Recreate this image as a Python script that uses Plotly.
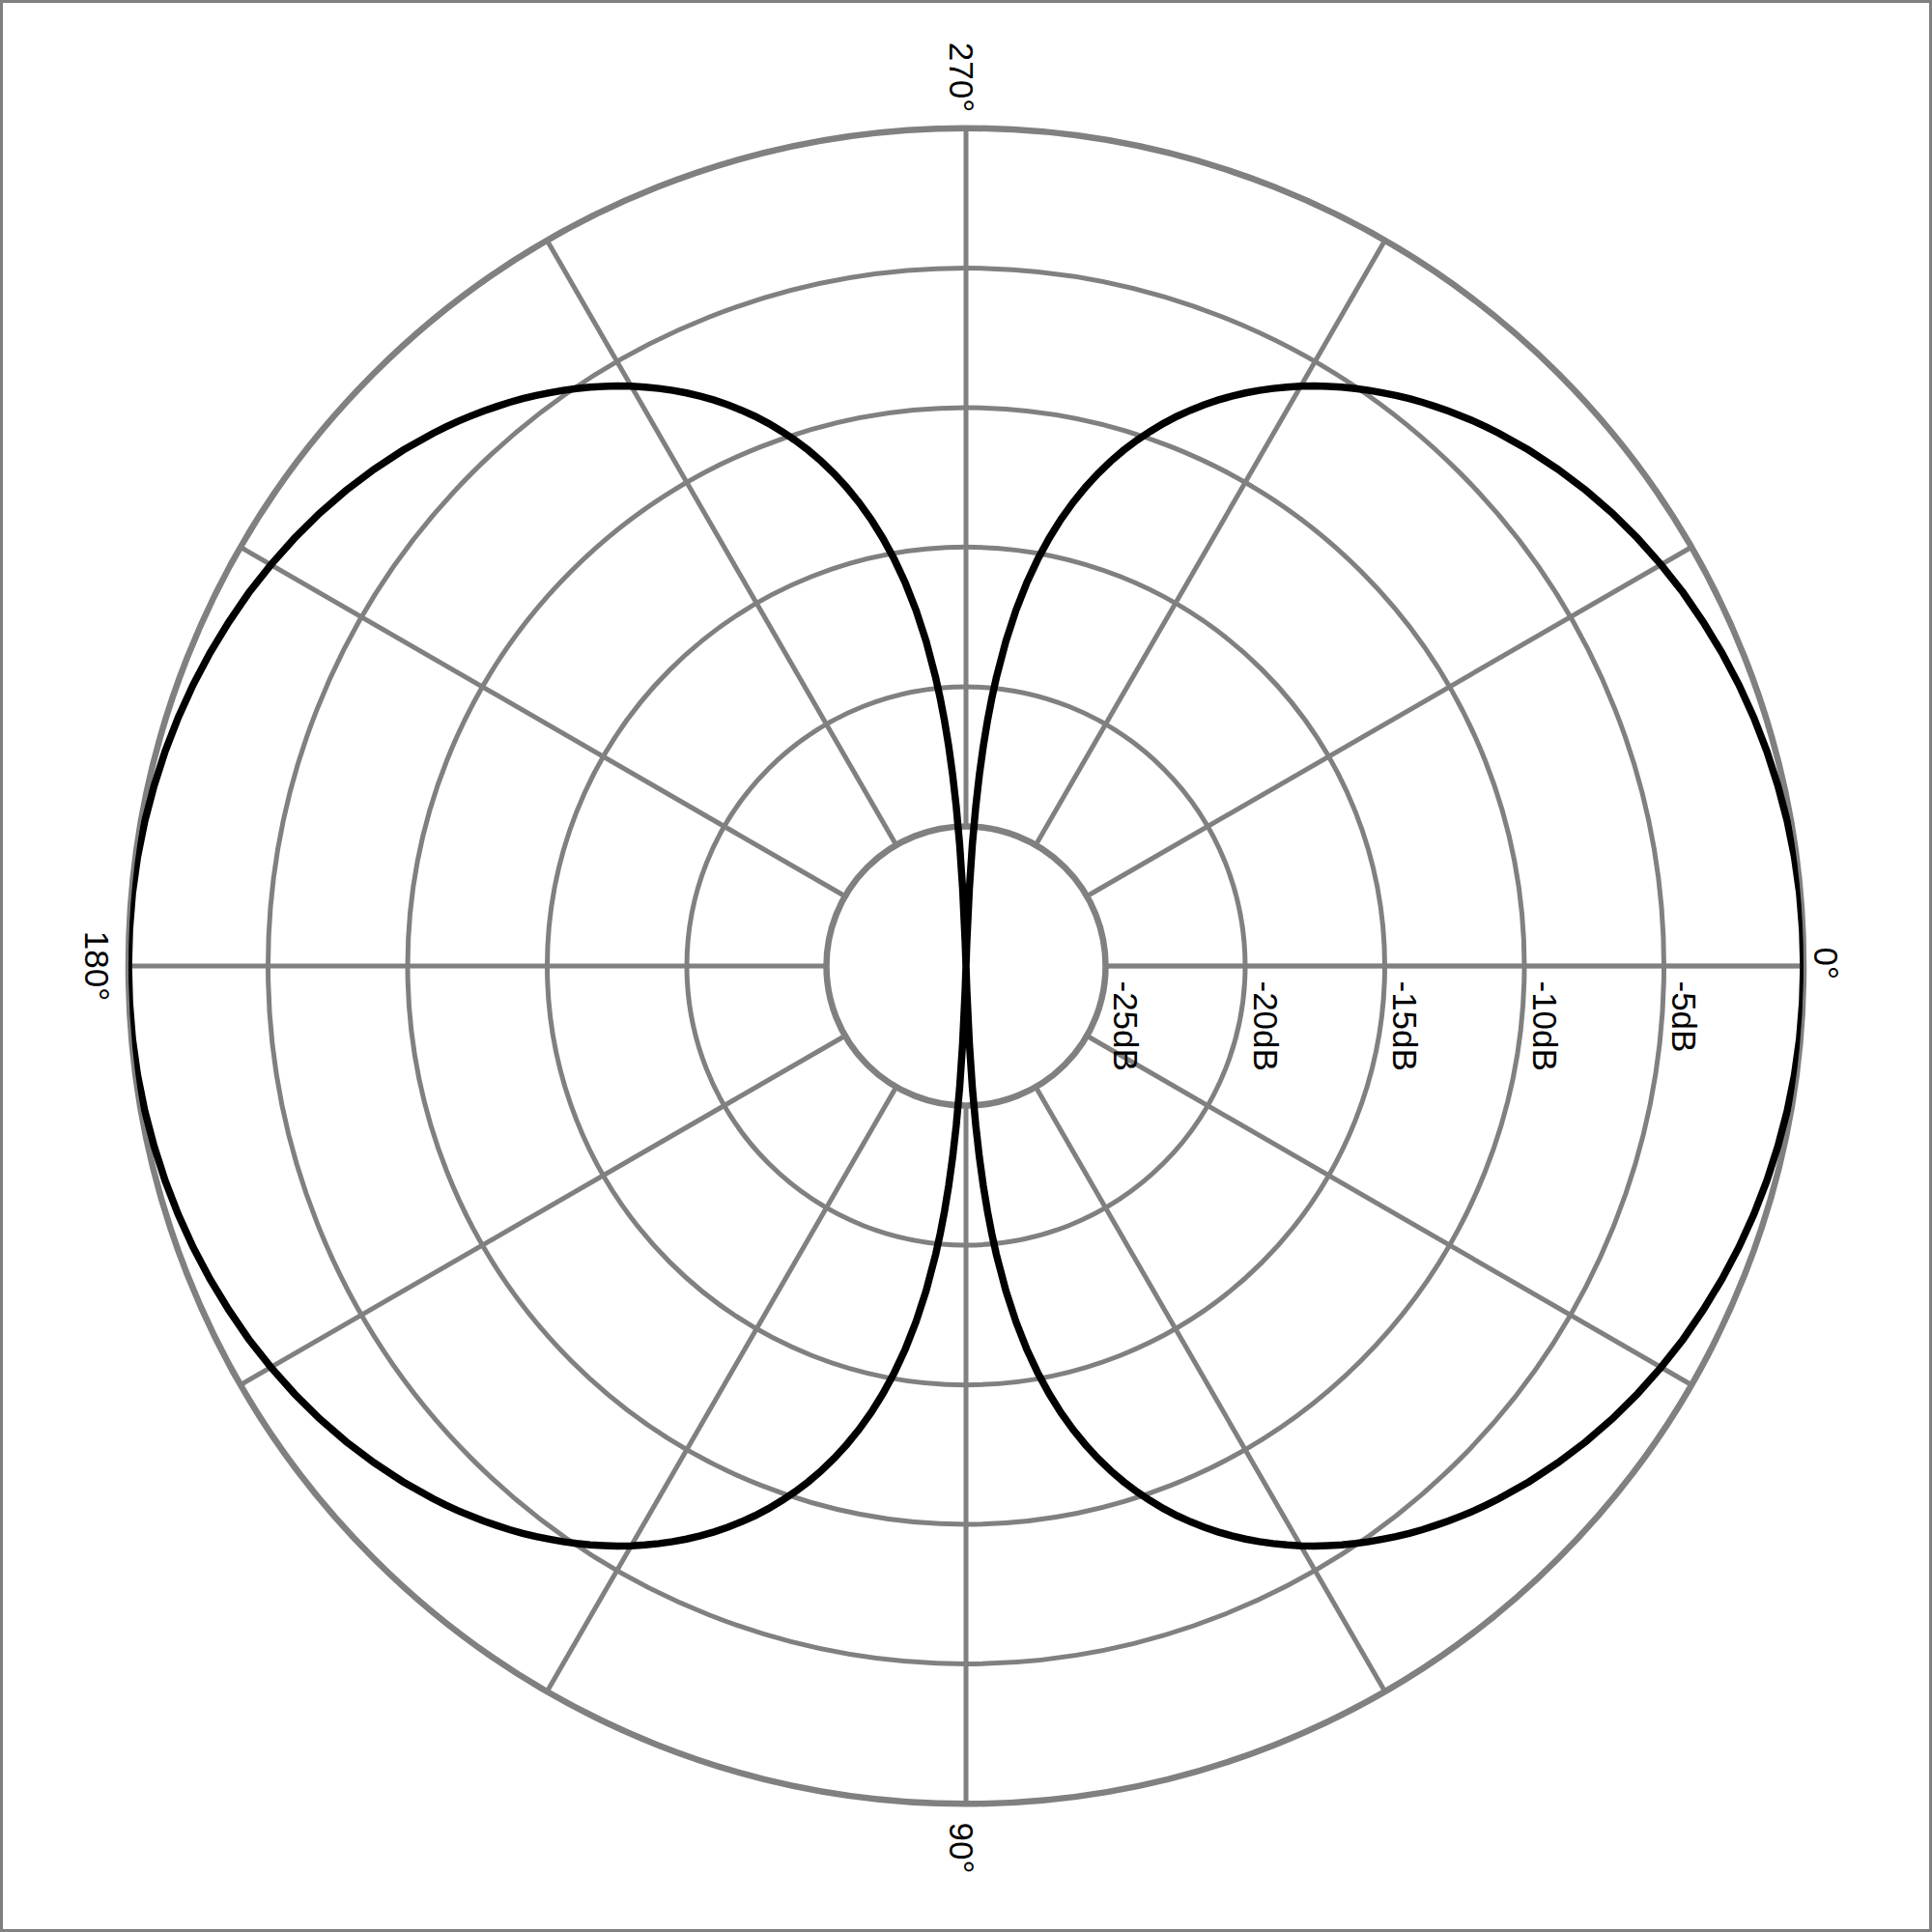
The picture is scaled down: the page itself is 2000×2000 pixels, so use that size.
import plotly.graph_objects as go

# Figure-8 pattern: angle (deg, clockwise from 0 at right) and level (dB)
theta_q1 = [0, 2.5, 5, 7.5, 10, 12.5, 15, 17.5, 20, 22.5, 25, 27.5, 30, 32.5, 35, 37.5, 40,
            42.5, 45, 46, 47, 48, 49, 50, 51, 52, 53, 54, 55, 56, 57, 58, 59, 60, 61, 62, 63,
            64, 65, 66, 67, 68, 69, 70, 71, 72, 73, 74, 75, 76, 77, 78, 79, 80, 81, 82, 83, 84,
            84.5, 85, 85.5, 86, 86.5, 87, 87.5, 88, 90]
level_q1 = [0.0, -0.01, -0.03, -0.07, -0.13, -0.21, -0.30, -0.41, -0.54, -0.69, -0.86, -1.04,
            -1.25, -1.48, -1.73, -2.01, -2.32, -2.65, -3.01, -3.16, -3.32, -3.49, -3.66, -3.84,
            -4.02, -4.21, -4.41, -4.62, -4.83, -5.05, -5.28, -5.52, -5.76, -6.02, -6.29, -6.57,
            -6.86, -7.16, -7.48, -7.81, -8.16, -8.53, -8.91, -9.32, -9.75, -10.20, -10.68,
            -11.19, -11.74, -12.33, -12.96, -13.64, -14.39, -15.21, -16.11, -17.13, -18.28,
            -19.62, -20.37, -21.19, -22.11, -23.13, -24.29, -25.62, -27.21, -29.14, -30.0]

theta_q2 = [92, 92.5, 93, 93.5, 94, 94.5, 95, 95.5, 96, 97, 98, 99, 100, 101, 102, 103, 104,
            105, 106, 107, 108, 109, 110, 111, 112, 113, 114, 115, 116, 117, 118, 119, 120, 121,
            122, 123, 124, 125, 126, 127, 128, 129, 130, 131, 132, 133, 134, 135, 137.5, 140,
            142.5, 145, 147.5, 150, 152.5, 155, 157.5, 160, 162.5, 165, 167.5, 170, 172.5, 175,
            177.5, 180]
level_q2 = [-29.14, -27.21, -25.62, -24.29, -23.13, -22.11, -21.19, -20.37, -19.62, -18.28,
            -17.13, -16.11, -15.21, -14.39, -13.64, -12.96, -12.33, -11.74, -11.19, -10.68,
            -10.20, -9.75, -9.32, -8.91, -8.53, -8.16, -7.81, -7.48, -7.16, -6.86, -6.57, -6.29,
            -6.02, -5.76, -5.52, -5.28, -5.05, -4.83, -4.62, -4.41, -4.21, -4.02, -3.84, -3.66,
            -3.49, -3.32, -3.16, -3.01, -2.65, -2.32, -2.01, -1.73, -1.48, -1.25, -1.04, -0.86,
            -0.69, -0.54, -0.41, -0.30, -0.21, -0.13, -0.07, -0.03, -0.01, 0.0]

theta_q3 = [182.5, 185, 187.5, 190, 192.5, 195, 197.5, 200, 202.5, 205, 207.5, 210, 212.5, 215,
            217.5, 220, 222.5, 225, 226, 227, 228, 229, 230, 231, 232, 233, 234, 235, 236, 237,
            238, 239, 240, 241, 242, 243, 244, 245, 246, 247, 248, 249, 250, 251, 252, 253, 254,
            255, 256, 257, 258, 259, 260, 261, 262, 263, 264, 264.5, 265, 265.5, 266, 266.5,
            267, 267.5, 268, 270]
level_q3 = [-0.01, -0.03, -0.07, -0.13, -0.21, -0.30, -0.41, -0.54, -0.69, -0.86, -1.04, -1.25,
            -1.48, -1.73, -2.01, -2.32, -2.65, -3.01, -3.16, -3.32, -3.49, -3.66, -3.84, -4.02,
            -4.21, -4.41, -4.62, -4.83, -5.05, -5.28, -5.52, -5.76, -6.02, -6.29, -6.57, -6.86,
            -7.16, -7.48, -7.81, -8.16, -8.53, -8.91, -9.32, -9.75, -10.20, -10.68, -11.19,
            -11.74, -12.33, -12.96, -13.64, -14.39, -15.21, -16.11, -17.13, -18.28, -19.62,
            -20.37, -21.19, -22.11, -23.13, -24.29, -25.62, -27.21, -29.14, -30.0]

theta_q4 = [272, 272.5, 273, 273.5, 274, 274.5, 275, 275.5, 276, 277, 278, 279, 280, 281, 282,
            283, 284, 285, 286, 287, 288, 289, 290, 291, 292, 293, 294, 295, 296, 297, 298, 299,
            300, 301, 302, 303, 304, 305, 306, 307, 308, 309, 310, 311, 312, 313, 314, 315,
            317.5, 320, 322.5, 325, 327.5, 330, 332.5, 335, 337.5, 340, 342.5, 345, 347.5, 350,
            352.5, 355, 357.5, 360]
level_q4 = [-29.14, -27.21, -25.62, -24.29, -23.13, -22.11, -21.19, -20.37, -19.62, -18.28,
            -17.13, -16.11, -15.21, -14.39, -13.64, -12.96, -12.33, -11.74, -11.19, -10.68,
            -10.20, -9.75, -9.32, -8.91, -8.53, -8.16, -7.81, -7.48, -7.16, -6.86, -6.57, -6.29,
            -6.02, -5.76, -5.52, -5.28, -5.05, -4.83, -4.62, -4.41, -4.21, -4.02, -3.84, -3.66,
            -3.49, -3.32, -3.16, -3.01, -2.65, -2.32, -2.01, -1.73, -1.48, -1.25, -1.04, -0.86,
            -0.69, -0.54, -0.41, -0.30, -0.21, -0.13, -0.07, -0.03, -0.01, 0.0]

radial_ticks = [-25, -20, -15, -10, -5]
radial_labels = ["-25dB", "-20dB", "-15dB", "-10dB", "-5dB"]
spoke_angles = [0, 30, 60, 90, 120, 150, 180, 210, 240, 270, 300, 330]
angle_label_ticks = [0, 90, 180, 270]
angle_labels = ["0°", "90°", "180°", "270°"]

theta_deg = theta_q1 + theta_q2 + theta_q3 + theta_q4
level_db = level_q1 + level_q2 + level_q3 + level_q4
assert len(theta_q1) == len(level_q1) and len(theta_q2) == len(level_q2)
assert len(theta_q3) == len(level_q3) and len(theta_q4) == len(level_q4)

GRID = "#808080"
FONT = dict(family="Liberation Sans", size=35, color="black")
DOMAIN = dict(x=[0.0665, 0.9335], y=[0.0665, 0.9335])
CLEAR = "rgba(0,0,0,0)"
# small nudges so the rotated labels sit centred like in the reference
RADIAL_LABEL_SHIFT = 0.7                                   # dB
ANGLE_LABEL_POS = {0: 359.1, 90: 90, 180: 177.45, 270: 270}  # deg

fig = go.Figure()
# empty trace so that the grid subplot is drawn
fig.add_trace(go.Scatterpolar(r=[], theta=[], subplot="polar", mode="lines",
                              showlegend=False, hoverinfo="skip"))
fig.add_trace(go.Scatterpolar(
    r=level_db, theta=theta_deg, mode="lines", subplot="polar2",
    line=dict(color="black", width=7.5),
    showlegend=False, hoverinfo="skip",
))

fig.update_layout(
    width=2000, height=2000,
    margin=dict(l=0, r=0, t=0, b=0),
    paper_bgcolor="white",
    font=FONT,
    # grid subplot (with inner hole)
    polar=dict(
        domain=DOMAIN,
        hole=1/6,
        bgcolor="white",
        radialaxis=dict(
            range=[-25, 0], tickvals=radial_ticks, showticklabels=False,
            angle=0, showline=True, linecolor=GRID, linewidth=4.5,
            gridcolor=GRID, gridwidth=4.5, ticks="",
        ),
        angularaxis=dict(
            direction="clockwise", rotation=0,
            tickmode="array", tickvals=spoke_angles, showticklabels=False,
            showline=True, linecolor=GRID, linewidth=6.5,
            gridcolor=GRID, gridwidth=4.5, ticks="",
        ),
    ),
    # data subplot, full disc, carries the curve and the labels
    polar2=dict(
        domain=DOMAIN,
        bgcolor=CLEAR,
        radialaxis=dict(
            range=[-30, 0],
            tickmode="array",
            tickvals=[v + RADIAL_LABEL_SHIFT for v in radial_ticks], ticktext=radial_labels,
            angle=0, tickangle=90, side="clockwise",
            showline=False, showgrid=False,
            ticks="outside", ticklen=8, tickcolor=CLEAR, tickfont=FONT,
        ),
        angularaxis=dict(
            direction="clockwise", rotation=0,
            tickmode="array",
            tickvals=[ANGLE_LABEL_POS[a] for a in angle_label_ticks],
            ticktext=angle_labels,
            showline=False, showgrid=False,
            ticks="outside", ticklen=21, tickcolor=CLEAR,
            tickangle=90, tickfont=FONT,
        ),
    ),
    shapes=[dict(type="rect", xref="paper", yref="paper", x0=0, y0=0, x1=1, y1=1,
                 line=dict(color=GRID, width=6), layer="above")],
)

fig.write_html("out.html", config={"displayModeBar": False},
               post_script="document.body.style.margin='0px';")
